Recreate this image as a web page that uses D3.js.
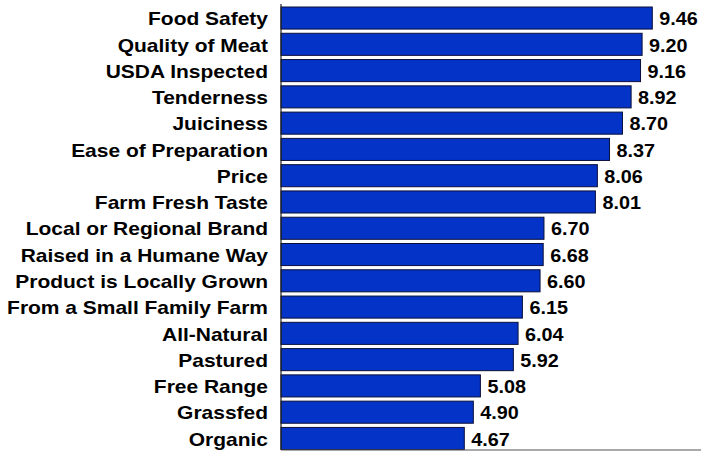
<!DOCTYPE html>
<html>
<head>
<meta charset="utf-8">
<script src="https://cdn.jsdelivr.net/npm/d3@7"></script>
<style>
  body { margin: 0; background: #fff; }
  svg { display: block; }
  text { font-family: Arial, "Liberation Sans", sans-serif; font-weight: bold; fill: #000; }
</style>
</head>
<body>
<script>
'use strict';

// chart data
const attributes = [
  'Food Safety', 'Quality of Meat', 'USDA Inspected', 'Tenderness', 'Juiciness',
  'Ease of Preparation', 'Price', 'Farm Fresh Taste', 'Local or Regional Brand',
  'Raised in a Humane Way', 'Product is Locally Grown', 'From a Small Family Farm',
  'All-Natural', 'Pastured', 'Free Range', 'Grassfed', 'Organic'
];
const scores = [9.46, 9.20, 9.16, 8.92, 8.70, 8.37, 8.06, 8.01, 6.70,
  6.68, 6.60, 6.15, 6.04, 5.92, 5.08, 4.90, 4.67];
const xDomain = [0, 10];

const width = 701, height = 452;
const stretch = 1.165; // the original lettering is a bit wider than Arial

const svg = d3.select('body').append('svg')
  .attr('width', width)
  .attr('height', height);

const x = d3.scaleLinear()
  .domain(xDomain)
  .range([281, 673.5]);

const y = d3.scaleBand()
  .domain(attributes)
  .range([7, 449.5])
  .paddingInner(0.16)
  .paddingOuter(0);

// bars
svg.selectAll('.bar')
  .data(attributes)
  .enter()
  .append('rect')
    .attr('class', 'bar')
    .attr('x', x(0))
    .attr('y', (d) => y(d))
    .attr('width', (d, i) => x(scores[i]) - x(0))
    .attr('height', y.bandwidth())
    .attr('fill', '#0433c8')
    .attr('stroke', '#0a0f3a')
    .attr('stroke-width', 1);

// value labels
svg.selectAll('.value')
  .data(attributes)
  .enter()
  .append('text')
    .attr('class', 'value')
    .attr('transform', (d, i) =>
      'translate(' + (x(scores[i]) + 7) + ',' + (y(d) + y.bandwidth() / 2) + ') scale(1.1,1)')
    .attr('dy', '0.4em')
    .style('font-size', '18px')
    .text((d, i) => scores[i].toFixed(2));

// category axis
const yAxis = d3.axisLeft(y).tickSize(0);
const gy = svg.append('g')
  .attr('transform', 'translate(281,0)')
  .call(yAxis);
gy.select('.domain').remove();
gy.selectAll('text')
  .attr('x', 0)
  .attr('dy', '0.4em')
  .attr('transform', 'translate(-13,0) scale(' + stretch + ',1)')
  .style('font-size', '18px')
  .style('font-family', 'Arial, "Liberation Sans", sans-serif')
  .style('fill', '#000');

// axis lines
svg.append('line')
  .attr('x1', 281).attr('x2', 281)
  .attr('y1', 4).attr('y2', 450)
  .attr('stroke', '#222')
  .attr('stroke-width', 1.2);
svg.append('line')
  .attr('x1', 281).attr('x2', width)
  .attr('y1', 450).attr('y2', 450)
  .attr('stroke', '#555')
  .attr('stroke-width', 1.2);
</script>
</body>
</html>
